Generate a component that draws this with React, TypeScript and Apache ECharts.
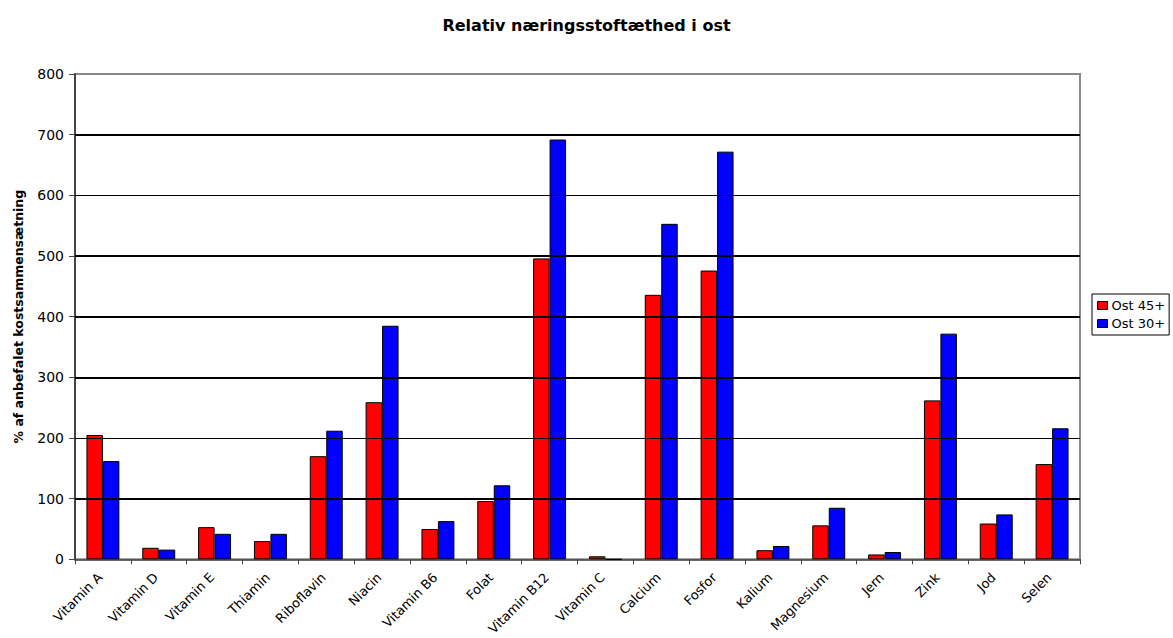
import React, { useEffect, useRef } from "react";
import * as echarts from "echarts";

const categories = [
  "Vitamin A", "Vitamin D", "Vitamin E", "Thiamin", "Riboflavin", "Niacin",
  "Vitamin B6", "Folat", "Vitamin B12", "Vitamin C", "Calcium", "Fosfor",
  "Kalium", "Magnesium", "Jern", "Zink", "Jod", "Selen",
];
const ost45 = [205, 19, 53, 30, 170, 259, 50, 96, 496, 5, 436, 476, 15, 56, 8, 262, 59, 157];
const ost30 = [162, 16, 42, 42, 212, 385, 63, 122, 692, 0, 553, 672, 22, 85, 12, 372, 74, 216];
const yTicks = [0, 100, 200, 300, 400, 500, 600, 700, 800];
// Gridlines: some are drawn heavier than others
const heavyGrid = [100, 300, 400, 500, 700];
const lightGrid = [200, 600];

const FONT = "'DejaVu Sans', 'Liberation Sans', Arial, sans-serif";

export default function App() {
  const ref = useRef<HTMLDivElement>(null);

  useEffect(() => {
    document.body.style.margin = "0";
    const chart = echarts.init(ref.current!, null, { renderer: "svg" });
    chart.setOption({
      animation: false,
      backgroundColor: "#ffffff",
      textStyle: { fontFamily: FONT },
      title: {
        text: "Relativ næringsstoftæthed i ost",
        left: "center",
        top: 12,
        textStyle: { fontFamily: FONT, fontSize: 16, fontWeight: "bold", color: "#000" },
      },
      legend: {
        orient: "vertical",
        left: 1092,
        top: 294,
        padding: [5, 4, 5, 5],
        itemGap: 5,
        itemWidth: 10,
        itemHeight: 8,
        borderColor: "#000",
        borderWidth: 1,
        backgroundColor: "#fff",
        itemStyle: { borderColor: "#000", borderWidth: 1 },
        textStyle: { fontFamily: FONT, fontSize: 13, color: "#000", padding: [0, 0, 0, -1] },
        data: [
          { name: "Ost 45+", icon: "rect" },
          { name: "Ost 30+", icon: "rect" },
        ],
      },
      grid: { left: 75, right: 93, top: 74, bottom: 78, show: true, borderColor: "#8a8a8a", borderWidth: 2 },
      xAxis: {
        type: "category",
        data: categories,
        axisLine: { lineStyle: { color: "#444", width: 1.5 } },
        axisTick: { show: true, length: 5, lineStyle: { color: "#444" } },
        axisLabel: {
          rotate: 45,
          fontFamily: FONT,
          fontSize: 13,
          color: "#000",
          margin: 13,
          interval: 0,
          padding: [0, 4, 0, 0],
        },
      },
      yAxis: {
        type: "value",
        min: yTicks[0],
        max: yTicks[yTicks.length - 1],
        interval: 100,
        name: "% af anbefalet kostsammensætning",
        nameLocation: "middle",
        nameGap: 50,
        nameTextStyle: { fontFamily: FONT, fontSize: 12.5, fontWeight: "bold", color: "#000" },
        axisLine: { show: true, lineStyle: { color: "#444", width: 2 } },
        axisTick: { show: true, length: 6, lineStyle: { color: "#444" } },
        axisLabel: { fontFamily: FONT, fontSize: 14, color: "#000", margin: 11 },
        splitLine: { show: false },
      },
      series: [
        {
          type: "line",
          data: [],
          silent: true,
          z: 1,
          markLine: {
            silent: true,
            symbol: "none",
            label: { show: false },
            lineStyle: { color: "#000", width: 2, type: "solid" },
            data: [
              ...heavyGrid.map((v) => ({ yAxis: v, lineStyle: { width: 2.2, color: "#000", type: "solid" } })),
              ...lightGrid.map((v) => ({ yAxis: v, lineStyle: { width: 1, color: "#000", type: "solid" } })),
            ],
          },
        },
        {
          name: "Ost 45+",
          type: "bar",
          data: ost45,
          z: 3,
          barGap: "0%",
          barCategoryGap: "41%",
          itemStyle: { color: "#ff0000", borderColor: "#000", borderWidth: 1 },
        },
        {
          name: "Ost 30+",
          type: "bar",
          data: ost30,
          z: 3,
          barGap: "0%",
          barCategoryGap: "41%",
          itemStyle: { color: "#0000ff", borderColor: "#000", borderWidth: 1 },
        },
      ],
    });
    return () => chart.dispose();
  }, []);

  return <div ref={ref} style={{ width: 1173, height: 638 }} />;
}
